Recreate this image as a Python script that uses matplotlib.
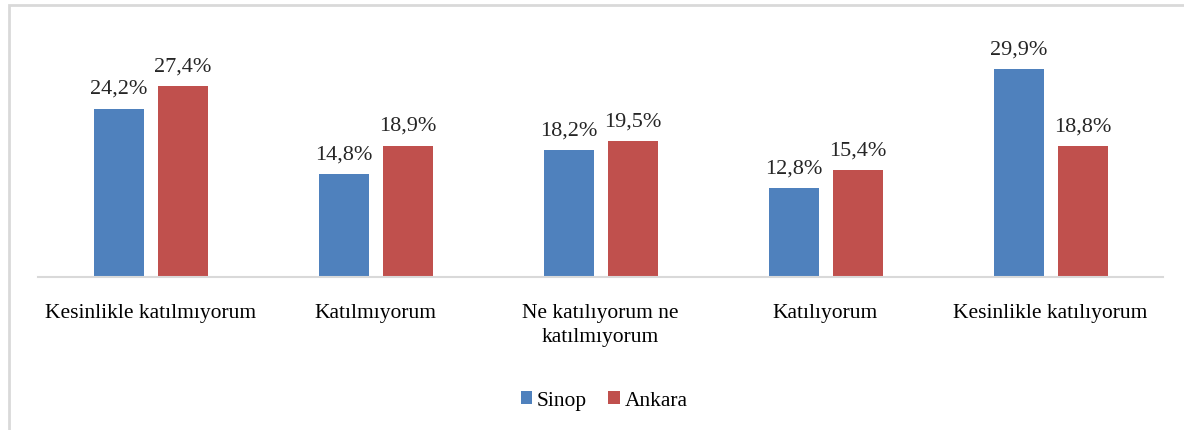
import matplotlib.pyplot as plt
import numpy as np
from matplotlib.patches import Rectangle

categories = ['Kesinlikle katılmıyorum', 'Katılmıyorum', 'Ne katılıyorum ne\nkatılmıyorum',
              'Katılıyorum', 'Kesinlikle katılıyorum']
sinop = [24.2, 14.8, 18.2, 12.8, 29.9]
ankara = [27.4, 18.9, 19.5, 15.4, 18.8]
series = ['Sinop', 'Ankara']

plt.rcParams['font.family'] = ['Liberation Serif', 'DejaVu Serif']

W, H = 1184, 430
fig = plt.figure(figsize=(W / 100, H / 100), dpi=100)
# axes placed in pixel terms: baseline at y=277, x from 38 to 1163
ax = fig.add_axes([38 / W, (H - 277) / H, 1125 / W, 257 / H])

x = np.arange(len(categories))
bw = 50 / 225
off = 32 / 225
b1 = ax.bar(x - off, sinop, bw, color='#4F81BD', label=series[0])
b2 = ax.bar(x + off, ankara, bw, color='#C0504D', label=series[1])

for bars, vals in ((b1, sinop), (b2, ankara)):
    for b, v in zip(bars, vals):
        ax.annotate(f'{v:.1f}%'.replace('.', ','), (b.get_x() + b.get_width() / 2, v),
                    xytext=(0, 7), textcoords='offset points', ha='center', va='bottom',
                    fontsize=16, color='#262626')

ax.set_xlim(-0.5, len(categories) - 0.5)
ax.set_ylim(0, 257 / (208 / 29.9))
ax.set_xticks(x)
ax.set_xticklabels(categories, fontsize=15.5, linespacing=1.38)
ax.tick_params(axis='x', length=0, pad=19.5)
ax.set_yticks([])
for s in ['top', 'right', 'left']:
    ax.spines[s].set_visible(False)
ax.spines['bottom'].set_color('#D9D9D9')
ax.spines['bottom'].set_linewidth(1.5)

fig.legend(handles=[b1, b2], labels=series, loc='center', bbox_to_anchor=(604 / W, (H - 401) / H),
           ncol=2, frameon=False, fontsize=15.5, handlelength=0.55, handleheight=0.55,
           handletextpad=0.2, columnspacing=1.0)

# outer chart frame (cropped on right and bottom)
fig.patches.append(Rectangle((9 / W, -0.1), 1.2, (H - 5) / H + 0.1, transform=fig.transFigure,
                             fill=False, edgecolor='#D9D9D9', linewidth=2))

fig.savefig('out.png', dpi=100)
